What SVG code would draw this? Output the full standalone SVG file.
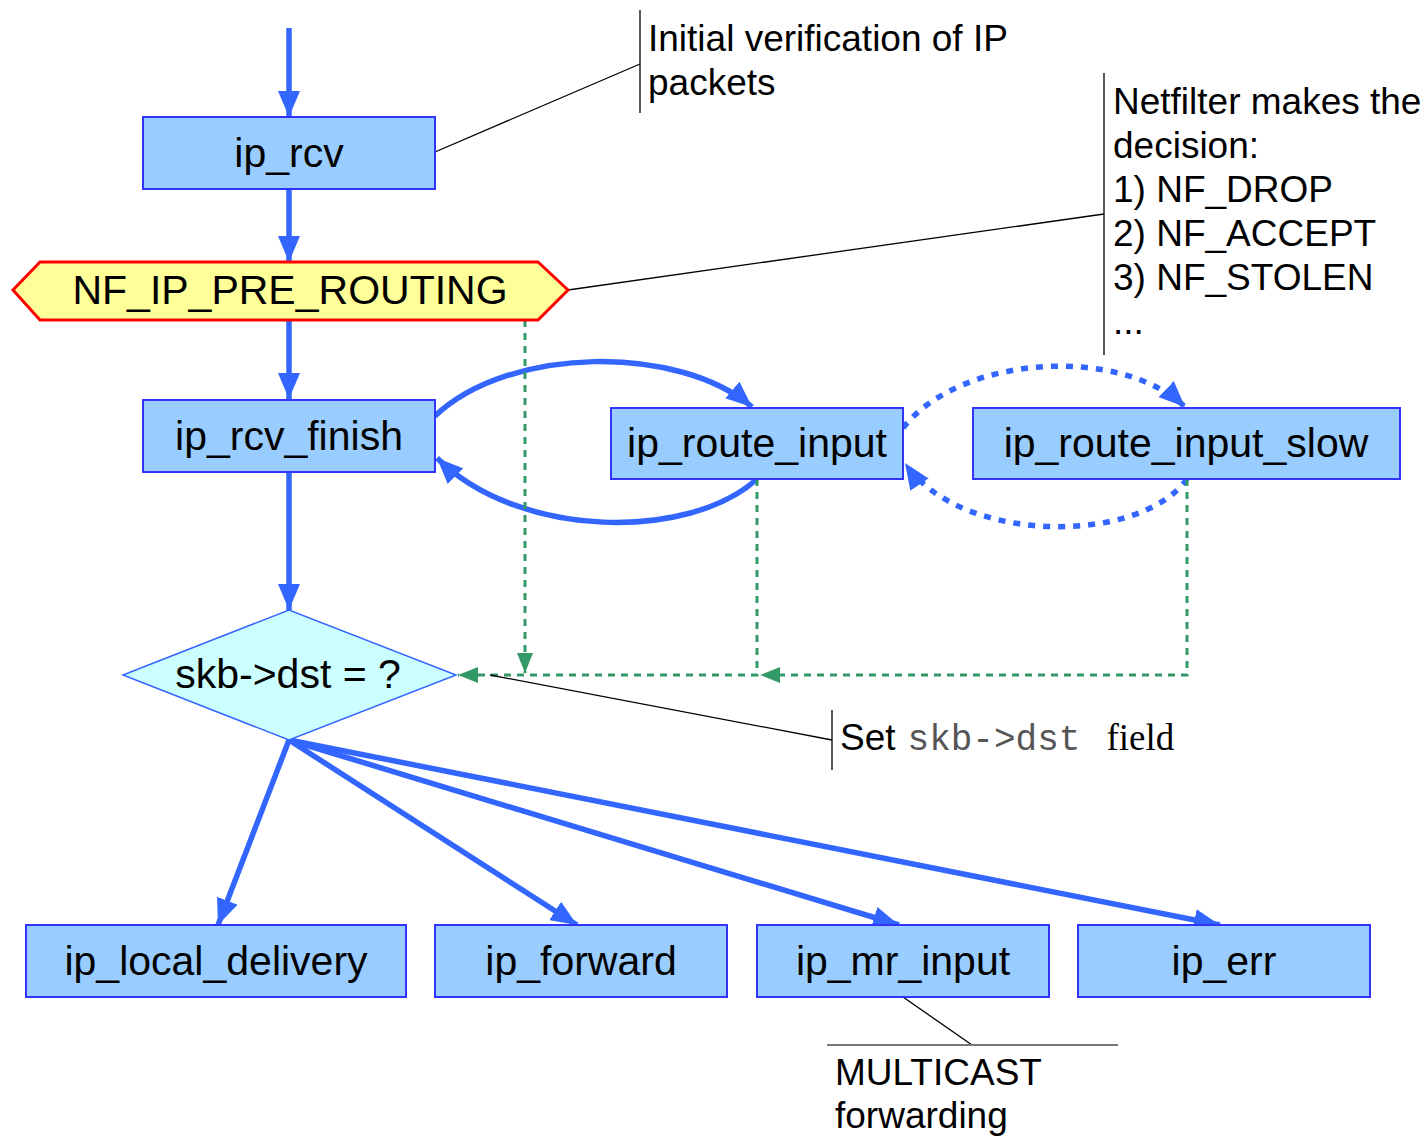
<svg xmlns="http://www.w3.org/2000/svg" width="1426" height="1136" viewBox="0 0 1426 1136">
<style>
.box{fill:#99ccff;stroke:#3333ff;stroke-width:2}
.lbl{font-family:"Liberation Sans",Arial,sans-serif;font-size:41px;fill:#000;text-anchor:middle}
.note{font-family:"Liberation Sans",Arial,sans-serif;font-size:37px;fill:#000}
.flow{fill:none;stroke:#3366ff;stroke-width:5.5}
.dot{fill:none;stroke:#3366ff;stroke-width:5.5;stroke-dasharray:7 8}
.green{fill:none;stroke:#339966;stroke-width:3;stroke-dasharray:7 6}
.call{fill:none;stroke:#000;stroke-width:1.3}
</style>
<defs>
<marker id="ab" markerUnits="userSpaceOnUse" markerWidth="28" markerHeight="22" refX="26" refY="11" orient="auto">
<path d="M0,0 L26,11 L0,22 z" fill="#3366ff"/>
</marker>
<marker id="ag" markerUnits="userSpaceOnUse" markerWidth="22" markerHeight="16" refX="20" refY="8" orient="auto">
<path d="M0,0 L20,8 L0,16 z" fill="#339966"/>
</marker>
</defs>

<g id="connectors">
<path class="flow" d="M289,28 V117" marker-end="url(#ab)"/>
<path class="flow" d="M289,189 V262" marker-end="url(#ab)"/>
<path class="flow" d="M289,320 V399" marker-end="url(#ab)"/>
<path class="flow" d="M289,472 V610" marker-end="url(#ab)"/>
<path class="flow" d="M435,416 C510,345 680,345 752,407" marker-end="url(#ab)"/>
<path class="flow" d="M757,479 C690,540 520,540 437,458" marker-end="url(#ab)"/>
<path class="dot" d="M903,428 C960,355 1120,345 1185,407" marker-end="url(#ab)"/>
<path class="dot" d="M1187,479 C1140,545 960,545 905,463" marker-end="url(#ab)"/>
<path class="flow" d="M289,740 L218,925" marker-end="url(#ab)"/>
<path class="flow" d="M289,740 L577,925" marker-end="url(#ab)"/>
<path class="flow" d="M289,740 L899,925" marker-end="url(#ab)"/>
<path class="flow" d="M289,740 L1220,925" marker-end="url(#ab)"/>
<path class="green" d="M525,320 V673" marker-end="url(#ag)"/>
<path class="green" d="M757,479 V675 H458" marker-end="url(#ag)"/>
<path class="green" d="M1187,479 V675 H760" marker-end="url(#ag)"/>
<path class="call" d="M435,152 L640,64"/>
<path class="call" d="M640,10 V113"/>
<path class="call" d="M568,290 L1104,214"/>
<path class="call" d="M1104,73 V355"/>
<path class="call" d="M490,675 L832,740"/>
<path class="call" d="M832,710 V770"/>
<path class="call" d="M903,997 L972,1045"/>
<path d="M827,1045 H1118" fill="none" stroke="#777" stroke-width="2"/>
</g>

<g id="ip_rcv"><rect class="box" x="143" y="117" width="292" height="72"/><text class="lbl" x="289" y="167">ip_rcv</text></g>
<g id="nf_ip_pre_routing"><polygon points="13,290 40,262 538,262 568,290 538,320 40,320" fill="#ffff99" stroke="#ff0000" stroke-width="3"/><text class="lbl" x="290" y="304">NF_IP_PRE_ROUTING</text></g>
<g id="ip_rcv_finish"><rect class="box" x="143" y="400" width="292" height="72"/><text class="lbl" x="289" y="450">ip_rcv_finish</text></g>
<g id="ip_route_input"><rect class="box" x="611" y="408" width="292" height="71"/><text class="lbl" x="757" y="457">ip_route_input</text></g>
<g id="ip_route_input_slow"><rect class="box" x="973" y="408" width="427" height="71"/><text class="lbl" x="1186" y="457">ip_route_input_slow</text></g>
<g id="skb_dst"><polygon points="123,675 289,610 456,675 289,740" fill="#ccffff" stroke="#3366ff" stroke-width="1.5"/><text class="lbl" x="288" y="688">skb-&gt;dst = ?</text></g>
<g id="ip_local_delivery"><rect class="box" x="26" y="925" width="380" height="72"/><text class="lbl" x="216" y="975">ip_local_delivery</text></g>
<g id="ip_forward"><rect class="box" x="435" y="925" width="292" height="72"/><text class="lbl" x="581" y="975">ip_forward</text></g>
<g id="ip_mr_input"><rect class="box" x="757" y="925" width="292" height="72"/><text class="lbl" x="903" y="975">ip_mr_input</text></g>
<g id="ip_err"><rect class="box" x="1078" y="925" width="292" height="72"/><text class="lbl" x="1224" y="975">ip_err</text></g>

<g id="note_initial"><text class="note" x="648" y="51">Initial verification of IP</text><text class="note" x="648" y="95">packets</text></g>
<g id="note_netfilter">
<text class="note" x="1113" y="114">Netfilter makes the</text>
<text class="note" x="1113" y="158">decision:</text>
<text class="note" x="1113" y="202">1) NF_DROP</text>
<text class="note" x="1113" y="246">2) NF_ACCEPT</text>
<text class="note" x="1113" y="290">3) NF_STOLEN</text>
<text class="note" x="1113" y="334">...</text>
</g>
<g id="note_set"><text class="note" x="840" y="750">Set<tspan font-family="'Liberation Mono','Courier New',monospace" font-size="36px" fill="#555" dx="12">skb-&gt;dst</tspan><tspan font-family="'Liberation Serif','Times New Roman',serif" dx="26">field</tspan></text></g>
<g id="note_multicast"><text class="note" x="835" y="1085">MULTICAST</text><text class="note" x="835" y="1128">forwarding</text></g>
</svg>
